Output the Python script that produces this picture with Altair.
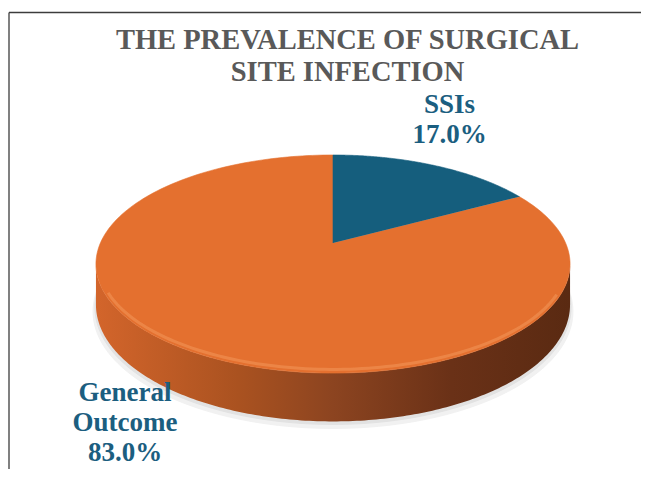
import altair as alt
import pandas as pd

# ---- data ----
categories = ["SSIs", "General Outcome"]
values = [17.0, 83.0]
title_lines = ["THE PREVALENCE OF SURGICAL", "SITE INFECTION"]

# ---- styles / geometry (page pixel coordinates) ----
slice_colors = {"SSIs": "#155E7D", "General Outcome": "#E4702F"}
label_color = "#1B5E80"
title_color = "#595959"
W, H = 633, 461
CX, CY = 333.0, 243.0          # projected pie centre
A, B, K = 232.6, 105.0, 0.193  # ellipse half axes and perspective factor
D0 = 39.0                      # pie thickness
PHI_R = "acos(-%g)" % K
PHI_L = "(2*PI - acos(-%g))" % K
label_offsets = {"SSIs": (15, -52), "General Outcome": (-66, 50)}

total = sum(values)
df = pd.DataFrame({
    "category": categories,
    "value": values,
    "order": list(range(len(categories))),
    "label": ["\n".join(c.split()) + "\n" + f"{v / total * 100:.1f}%" for c, v in zip(categories, values)],
    "ldx": [label_offsets[c][0] for c in categories],
    "ldy": [label_offsets[c][1] for c in categories],
})

xs = alt.Scale(domain=[8, 8 + W], nice=False, zero=False)
ys = alt.Scale(domain=[8, 8 + H], nice=False, zero=False, reverse=True)
X = alt.X("x:Q", scale=xs, axis=None)
Y = alt.Y("y:Q", scale=ys, axis=None)


def angles(chart):
    return chart.transform_joinaggregate(total="sum(value)").transform_window(
        cum="sum(value)", sort=[alt.SortField("order")], frame=[None, 0]
    ).transform_calculate(
        a0="2*PI*(datum.cum - datum.value)/datum.total",
        a1="2*PI*datum.cum/datum.total",
    )


# shadow under the pie
def shadow(off, scale, color):
    return alt.Chart(alt.sequence(0, 1.0001, 0.005, as_="t")).transform_calculate(
        phi="2*PI*datum.t",
        w=f"1 + {K}*cos(datum.phi)",
        x=f"{CX} + {A * scale}*sin(datum.phi)/datum.w",
        y=f"{CY} - {B}*cos(datum.phi)/datum.w + {D0}/datum.w + {off}",
    ).mark_line(fill=color, stroke=color, strokeWidth=1).encode(x=X, y=Y, order="t:Q")


shadow_outer = shadow(7, 1.012, "#F1F1F1")
shadow_inner = shadow(3, 1.004, "#E2E2E2")

# side wall of the 3D pie
side = alt.Chart(alt.sequence(0, 2.0001, 0.005, as_="t")).transform_calculate(
    phi=f"{PHI_R} + (datum.t <= 1 ? datum.t : 2 - datum.t)*({PHI_L} - {PHI_R})",
    w=f"1 + {K}*cos(datum.phi)",
    x=f"{CX} + {A}*sin(datum.phi)/datum.w",
    y=f"{CY} - {B}*cos(datum.phi)/datum.w + (datum.t > 1 ? {D0}/datum.w : 0)",
).mark_line(
    fill=alt.Gradient(
        gradient="linear", x1=0, x2=1, y1=0, y2=0,
        stops=[
            alt.GradientStop(color="#D3652B", offset=0),
            alt.GradientStop(color="#AA5220", offset=0.3),
            alt.GradientStop(color="#8C4420", offset=0.5),
            alt.GradientStop(color="#6A3117", offset=0.75),
            alt.GradientStop(color="#5A2A12", offset=1),
        ],
    ),
    strokeWidth=0,
).encode(x=X, y=Y, order="t:Q")


# top face slices
def slice_layer(cat):
    return angles(alt.Chart(df)).transform_filter(
        alt.datum.category == cat
    ).transform_calculate(
        ts="sequence(-0.01, 1.0001, 0.005)"
    ).transform_flatten(["ts"], as_=["t"]).transform_calculate(
        phi="datum.a0 + max(datum.t, 0)*(datum.a1 - datum.a0)",
        w=f"1 + {K}*cos(datum.phi)",
        x=f"datum.t < 0 ? {CX} : {CX} + {A}*sin(datum.phi)/datum.w",
        y=f"datum.t < 0 ? {CY} : {CY} - {B}*cos(datum.phi)/datum.w",
    ).mark_line(
        fill=slice_colors[cat], stroke=slice_colors[cat], strokeWidth=0.6
    ).encode(x=X, y=Y, order="t:Q")


slices = [slice_layer(c) for c in categories[::-1]]

# light rim highlight on the front edge of the top face
rim = alt.Chart(alt.sequence(0, 1.0001, 0.01, as_="t")).transform_calculate(
    phi="2.05 + datum.t*2.2",
    w=f"1 + {K}*cos(datum.phi)",
    x=f"{CX} + {A - 3}*sin(datum.phi)/datum.w",
    y=f"{CY} - {B - 3}*cos(datum.phi)/datum.w",
).mark_line(stroke="#F6A064", strokeWidth=3, opacity=0.45).encode(x=X, y=Y, order="t:Q")

# data labels
labels = angles(alt.Chart(df)).transform_calculate(
    mid="(datum.a0 + datum.a1)/2",
    w=f"1 + {K}*cos(datum.mid)",
    x=f"{CX} + {A}*sin(datum.mid)/datum.w + datum.ldx",
    y=f"{CY} - {B}*cos(datum.mid)/datum.w + datum.ldy",
).mark_text(
    font="Liberation Serif", fontSize=27, fontWeight="bold", color=label_color,
    align="center", baseline="alphabetic", lineBreak="\n", lineHeight=30,
).encode(x=X, y=Y, text="label:N")

# chart frame (top and left border as in the reference)
one = pd.DataFrame({"k": [0]})
frame_top = alt.Chart(one).mark_rule(color="#3C3C3C", strokeWidth=1.3).encode(
    x=alt.value(1), x2=alt.value(W), y=alt.value(4.5))
frame_left = alt.Chart(one).mark_rule(color="#3C3C3C", strokeWidth=1.3).encode(
    x=alt.value(1), y=alt.value(4.5), y2=alt.value(H))

chart = alt.layer(
    shadow_outer, shadow_inner, side, *slices, rim, labels, frame_top, frame_left
).properties(
    width=W, height=H, padding=0, autosize=alt.AutoSizeParams(type="none"),
    title=alt.TitleParams(
        title_lines, font="Liberation Serif", fontSize=28.5, fontWeight="bold",
        color=title_color, lineHeight=32, anchor="middle", frame="group",
        offset=-78, dx=(117 + 578) / 2 - (8 + W / 2),
    ),
).configure_view(stroke=None)

chart.save("out.html", embed_options={"renderer": "svg", "actions": False})
